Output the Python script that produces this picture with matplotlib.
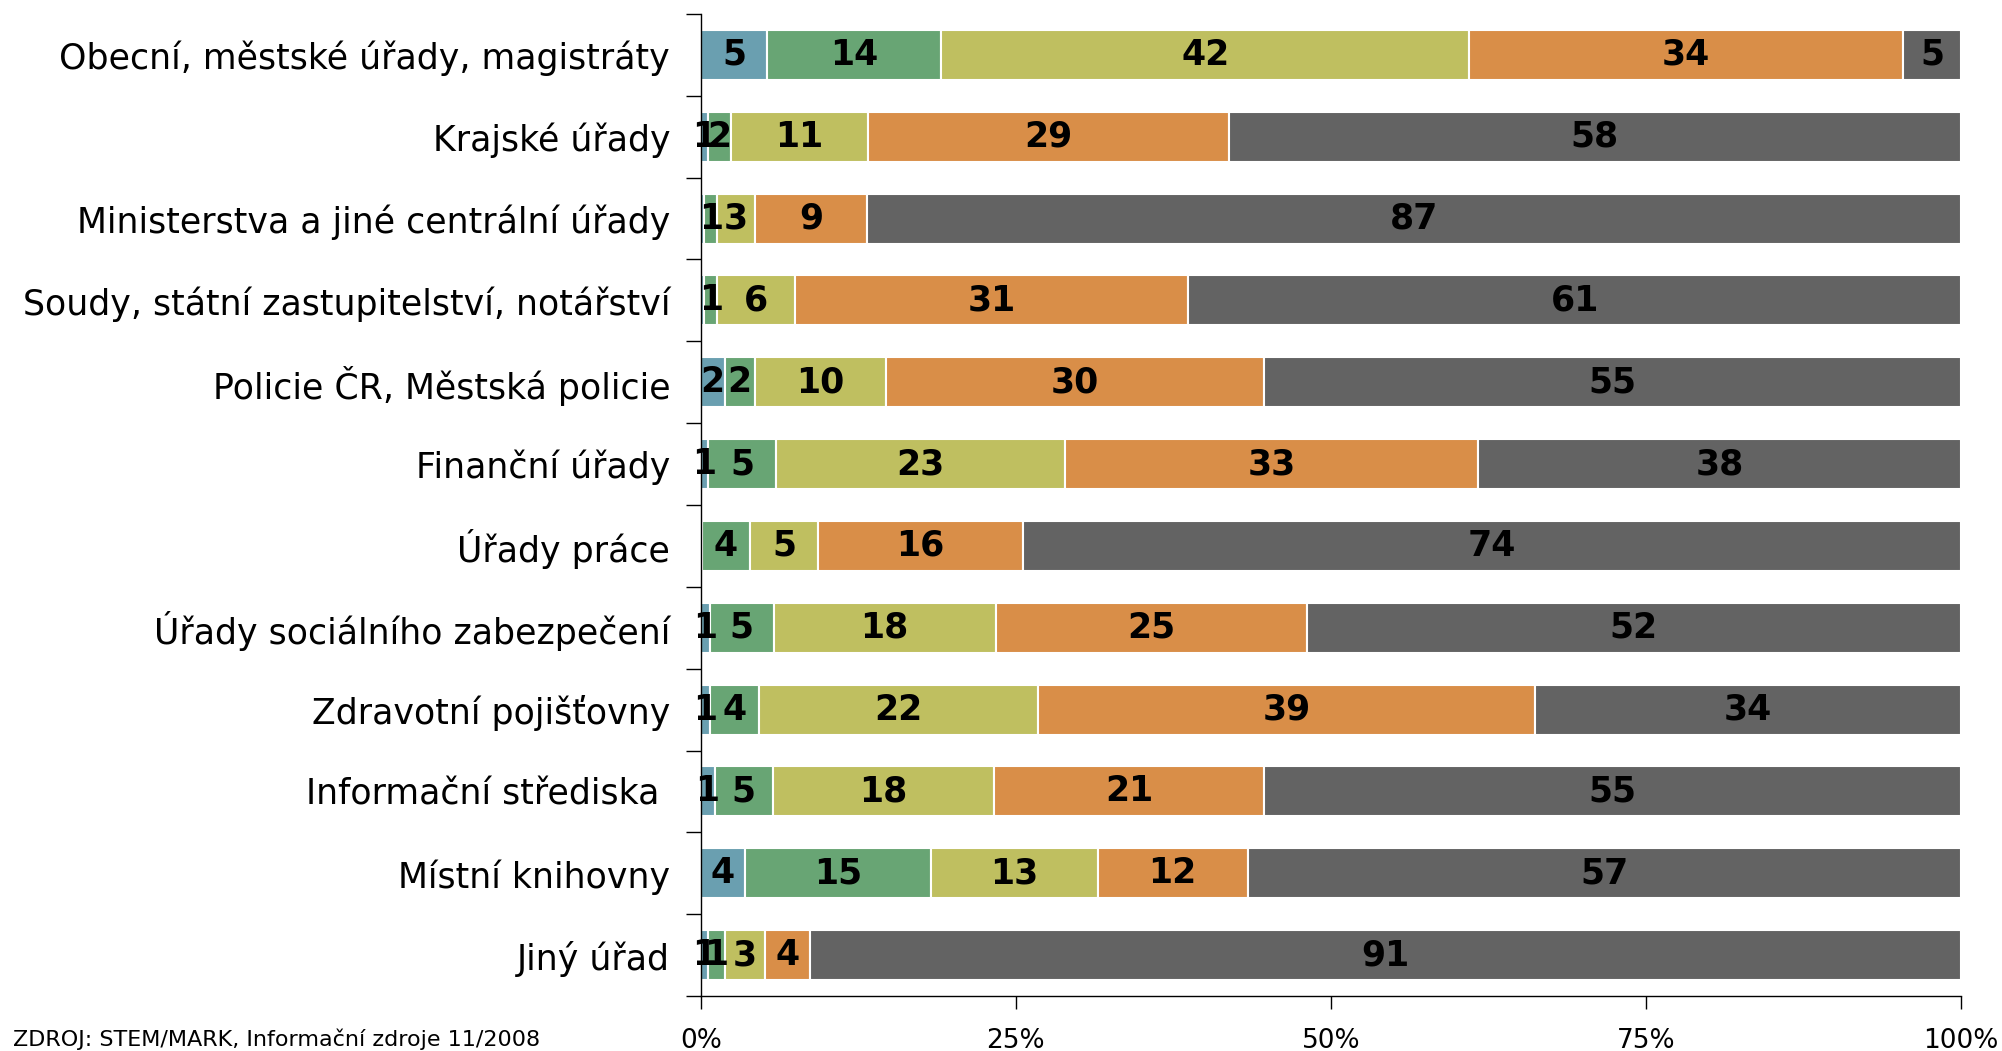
import numpy as np
import matplotlib
matplotlib.use('Agg')
import matplotlib.pyplot as plt

##################################################
## data (percent shares per institution)
##################################################
categories = ['Obecní, městské úřady, magistráty',
              'Krajské úřady',
              'Ministerstva a jiné centrální úřady',
              'Soudy, státní zastupitelství, notářství',
              'Policie ČR, Městská policie',
              'Finanční úřady',
              'Úřady práce',
              'Úřady sociálního zabezpečení',
              'Zdravotní pojišťovny',
              'Informační střediska ',
              'Místní knihovny',
              'Jiný úřad']

s1 = [5.3, 0.6, 0.3, 0.3, 1.9, 0.6, 0.1, 0.7, 0.7, 1.1, 3.5, 0.6]
s2 = [13.8, 1.8, 1.0, 1.0, 2.4, 5.4, 3.8, 5.1, 3.9, 4.6, 14.8, 1.3]
s3 = [41.9, 10.9, 3.0, 6.2, 10.4, 22.9, 5.4, 17.6, 22.2, 17.6, 13.2, 3.2]
s4 = [34.4, 28.6, 8.9, 31.2, 30.0, 32.8, 16.3, 24.7, 39.4, 21.4, 11.9, 3.6]
s5 = [4.6, 58.1, 86.8, 61.3, 55.3, 38.3, 74.4, 51.9, 33.8, 55.3, 56.6, 91.3]

series = [s1, s2, s3, s4, s5]
colors = ['#6a9fb0', '#68a574', '#bfbf60', '#d98e48', '#636363']

xticks = [0, 25, 50, 75, 100]
xticklabels = ['0%', '25%', '50%', '75%', '100%']

##################################################
## plot
##################################################
fig = plt.figure(figsize=(20.02, 10.51), dpi=100)
ax = fig.add_axes([0.350, 0.0523, 0.6295, 0.9344])

n = len(categories)
y = np.arange(n)
left = np.zeros(n)
for vals, col in zip(series, colors):
    vals = np.array(vals)
    ax.barh(y, vals, left=left, height=0.61, color=col,
            edgecolor='white', linewidth=1.5)
    # value labels, centred in each segment
    for yi, (l, v) in enumerate(zip(left, vals)):
        if round(v) >= 1:
            ax.text(l + v / 2, yi, f'{v:.0f}', ha='center', va='center',
                    fontsize=25, fontweight='bold', color='black')
    left = left + vals

ax.set_xlim(0, 100)
ax.set_ylim(n - 0.5, -0.5)

ax.set_yticks(y)
ax.set_yticklabels(categories, fontsize=25)
ax.tick_params(axis='y', which='major', length=0, pad=22)
ax.set_yticks(np.arange(-0.5, n, 1), minor=True)
ax.tick_params(axis='y', which='minor', length=11, width=1, direction='out')

ax.set_xticks(xticks)
ax.set_xticklabels(xticklabels, fontsize=19)
ax.tick_params(axis='x', length=9, width=1, direction='out', pad=14)

ax.spines['top'].set_visible(False)
ax.spines['right'].set_visible(False)
ax.spines['left'].set_linewidth(1)
ax.spines['bottom'].set_linewidth(1)

fig.text(0.0065, 0.001, 'ZDROJ: STEM/MARK, Informační zdroje 11/2008',
         fontsize=16, ha='left', va='bottom')

fig.savefig('out.png', dpi=100)
